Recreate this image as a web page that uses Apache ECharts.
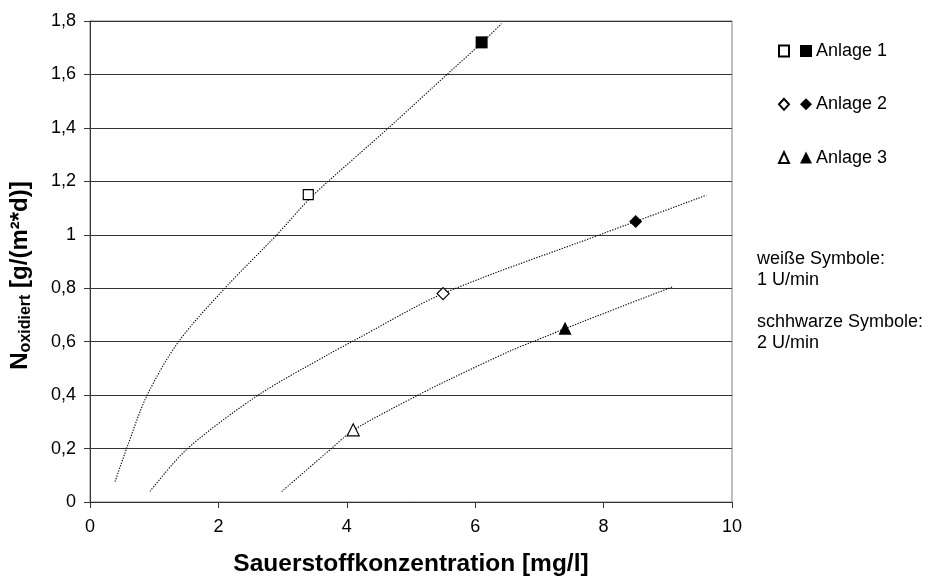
<!DOCTYPE html>
<html>
<head>
<meta charset="utf-8">
<script src="https://cdn.jsdelivr.net/npm/echarts@6/dist/echarts.min.js"></script>
<style>
  html, body { margin: 0; padding: 0; background: #fff; }
  #chart { width: 930px; height: 579px; }
</style>
</head>
<body>
<div id="chart"></div>
<script>
// Anlagen (legend names)
const anlagen = ['Anlage 1', 'Anlage 2', 'Anlage 3'];
// measured points at 1 U/min (white symbols) and 2 U/min (black symbols): [O2 mg/l, N g/(m²*d)]
const punkte1U = [[3.4, 1.15], [5.5, 0.78], [4.1, 0.27]];
const punkte2U = [[6.1, 1.72], [8.5, 1.05], [7.4, 0.65]];
// trend lines, one per Anlage
const trend1 = [[0.39, 0.076], [0.57, 0.2], [0.89, 0.4], [1.38, 0.6], [2.10, 0.8], [2.91, 1.0],
                [3.40, 1.13], [3.71, 1.2], [4.65, 1.4], [5.56, 1.6], [6.11, 1.72], [6.41, 1.79]];
const trend2 = [[0.935, 0.04], [1.52, 0.2], [2.62, 0.4], [3.74, 0.556], [4.08, 0.6], [5.50, 0.78],
                [7.94, 1.0], [8.50, 1.05], [9.60, 1.148]];
const trend3 = [[2.985, 0.039], [3.76, 0.2], [4.11, 0.27], [5.11, 0.4], [5.61, 0.46], [6.57, 0.568],
                [6.90, 0.6], [7.41, 0.65], [9.07, 0.805]];
// axis ranges
const xAxisRange = { min: 0, max: 10, step: 2 };
const yAxisRange = { min: 0, max: 1.8, step: 0.2 };
// legend notes
const hinweise = ['weiße Symbole:', '1 U/min', '', 'schhwarze Symbole:', '2 U/min'];

const FONT = 'Liberation Sans, Arial, sans-serif';
const symbolsWhite = [{ s: 'rect', size: 10 }, { s: 'diamond', size: 12 }, { s: 'triangle', size: 12 }];
const symbolsBlack = [{ s: 'rect', size: 12 }, { s: 'diamond', size: 13 }, { s: 'triangle', size: 13 }];
const whiteNames = anlagen.map(a => a + ' – 1 U/min');

const chart = echarts.init(document.getElementById('chart'), null, { renderer: 'canvas' });

const trendSeries = [trend1, trend2, trend3].map(d => ({
  type: 'line',
  data: d,
  symbol: 'none',
  smooth: 0.3,
  silent: true,
  z: 2,
  lineStyle: { color: '#000', width: 1.1, type: [1.3, 1.4] }
}));

const whiteSeries = punkte1U.map((p, i) => ({
  type: 'scatter',
  name: whiteNames[i],
  data: [p],
  symbol: symbolsWhite[i].s,
  symbolSize: symbolsWhite[i].size,
  z: 5,
  itemStyle: { color: '#fff', borderColor: '#000', borderWidth: 1.2, opacity: 1 }
}));

const blackSeries = punkte2U.map((p, i) => ({
  type: 'scatter',
  name: anlagen[i],
  data: [p],
  symbol: symbolsBlack[i].s,
  symbolSize: symbolsBlack[i].size,
  z: 5,
  itemStyle: { color: '#000', borderWidth: 0, opacity: 1 }
}));

const fmt = v => String(+v.toFixed(1)).replace('.', ',');

chart.setOption({
  animation: false,
  backgroundColor: '#fff',
  grid: {
    left: 90, right: 198, top: 21, bottom: 77,
    containLabel: false, outerBoundsMode: 'none',
    show: true, borderColor: '#808080', borderWidth: 1, backgroundColor: 'transparent'
  },
  xAxis: {
    type: 'value',
    min: xAxisRange.min, max: xAxisRange.max, interval: xAxisRange.step,
    name: 'Sauerstoffkonzentration [mg/l]',
    nameLocation: 'middle', nameGap: 50, nameMoveOverlap: false,
    nameTextStyle: { fontFamily: FONT, fontSize: 24.5, fontWeight: 'bold', color: '#000' },
    axisLine: { show: true, onZero: false, lineStyle: { color: '#333', width: 1 } },
    axisTick: { show: true, inside: false, length: 6, lineStyle: { color: '#333' } },
    axisLabel: { margin: 16, fontFamily: FONT, fontSize: 18, color: '#000', formatter: fmt },
    splitLine: { show: false }
  },
  yAxis: {
    type: 'value',
    min: yAxisRange.min, max: yAxisRange.max, interval: yAxisRange.step,
    name: '{n|N}{s|oxidiert}{n| [g/(m²*d)]}',
    nameLocation: 'middle', nameGap: 56, nameMoveOverlap: false,
    nameTextStyle: {
      padding: [0, 28, 0, 0],
      rich: {
        n: { fontFamily: FONT, fontSize: 24, fontWeight: 'bold', color: '#000', lineHeight: 28 },
        s: { fontFamily: FONT, fontSize: 16, fontWeight: 'bold', color: '#000', lineHeight: 14, verticalAlign: 'bottom' }
      }
    },
    axisLine: { show: true, onZero: false, lineStyle: { color: '#333', width: 1 } },
    axisTick: { show: true, inside: false, length: 6, lineStyle: { color: '#333' } },
    axisLabel: { margin: 14, fontFamily: FONT, fontSize: 18, color: '#000', formatter: fmt },
    splitLine: { show: true, lineStyle: { color: '#333', width: 1 } }
  },
  legend: [
    {
      // white symbols (1 U/min), icons only
      orient: 'vertical', left: 778, top: 41, padding: 0,
      itemWidth: 10, itemHeight: 11, itemGap: 33.3,
      selectedMode: false,
      data: whiteNames.map((n, i) => ({ name: n, icon: symbolsWhite[i].s })),
      formatter: () => ' ',
      textStyle: { fontFamily: FONT, fontSize: 18, lineHeight: 20, color: '#000' }
    },
    {
      // black symbols (2 U/min) with the Anlage names
      orient: 'vertical', left: 800, top: 41, padding: 0,
      itemWidth: 12, itemHeight: 12, itemGap: 33.3,
      selectedMode: false,
      data: anlagen.map((n, i) => ({ name: n, icon: symbolsBlack[i].s })),
      textStyle: { fontFamily: FONT, fontSize: 18, lineHeight: 20, color: '#000', padding: [0, 0, 0, -1] }
    }
  ],
  graphic: [{
    type: 'text',
    left: 757, top: 249,
    style: { text: hinweise.join('\n'), fontFamily: FONT, fontSize: 18, lineHeight: 21, fill: '#000' }
  }],
  series: [...trendSeries, ...whiteSeries, ...blackSeries]
});
</script>
</body>
</html>
